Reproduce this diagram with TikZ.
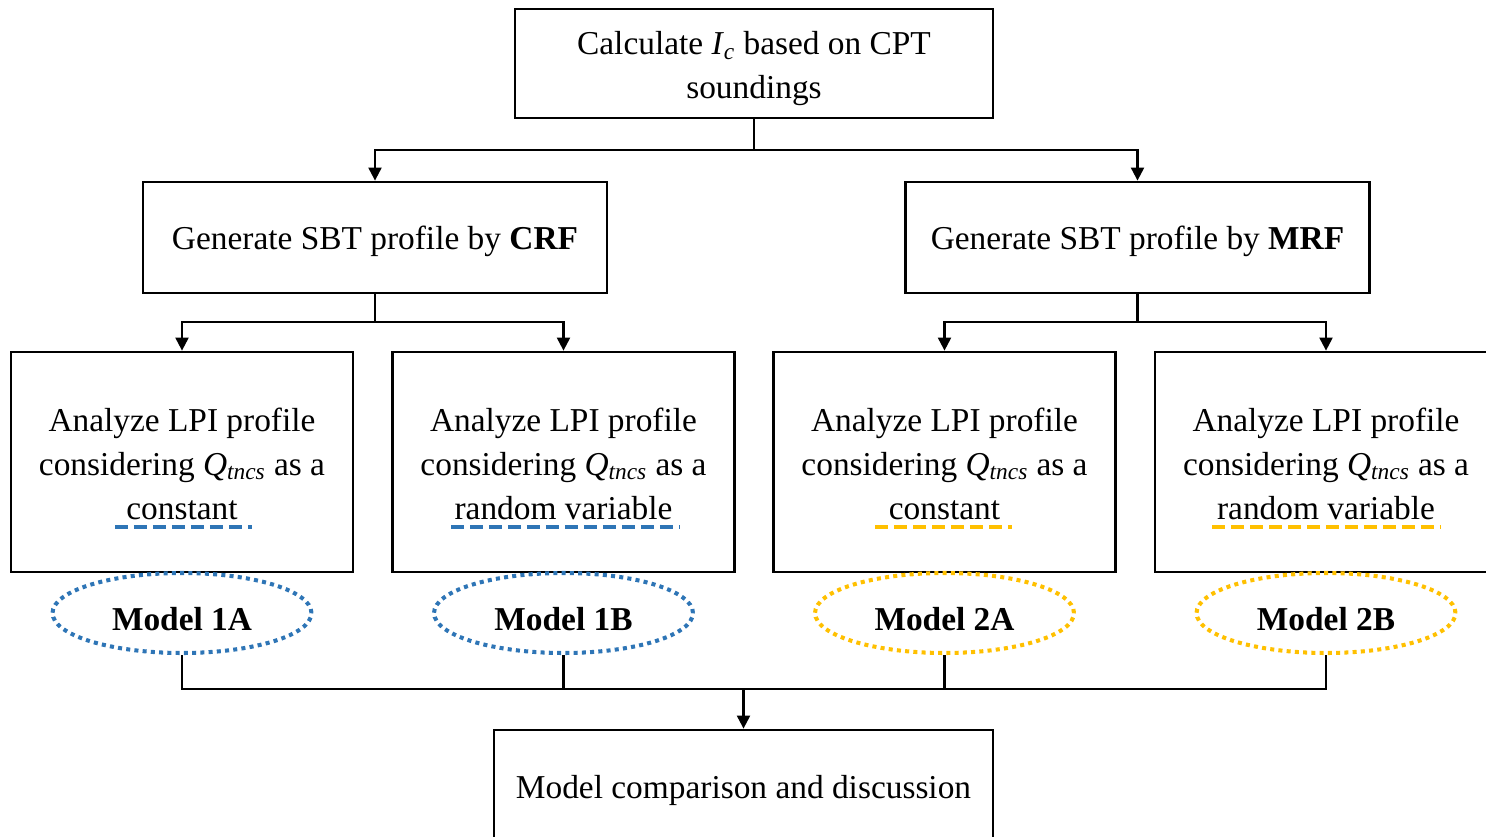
\documentclass[tikz,border=0pt]{standalone}
\usepackage{fontspec}
\setmainfont{Liberation Serif}
\usetikzlibrary{arrows.meta,shapes.geometric}
\definecolor{crfblue}{RGB}{46,117,182}
\definecolor{mrfgold}{RGB}{255,192,0}
\newcommand{\qtncs}{\textit{Q}\textsubscript{\textit{tncs}}}
\newcommand{\stacktext}[1]{\begin{tabular}{@{}c@{}}\rule{0pt}{22.5pt}#1\end{tabular}}
\begin{document}
\begin{tikzpicture}[x=0.02cm, y=-0.02cm,
  font=\fontsize{19}{25}\selectfont,
  lift/.style={execute at begin node={\rule{0pt}{#1}}},
  box/.style={draw, line width=1.6pt, inner sep=0pt},
  step1/.style={box, lift=18pt},
  stage/.style={box, minimum width=6.84cm, minimum height=4.4cm},
  oval/.style={ellipse, draw, line width=2.3pt, dash pattern=on 2.3pt off 2.4pt,
    minimum width=5.18cm, minimum height=1.6cm, inner sep=0pt,
    font=\fontsize{19}{25}\selectfont\bfseries, lift=20pt},
  link/.style={line width=1.2pt},
  arr/.style={link, -{Triangle[length=0.26cm,width=0.26cm]}},
  uline/.style={line width=2.3pt, dash pattern=on 0.26cm off 0.12cm}]
  \clip (0,0) rectangle (1486,837);
  % first step
  \node[box, minimum width=9.56cm, minimum height=2.18cm] (calc) at (754,63.5)
    {\stacktext{Calculate \textit{I}\textsubscript{\textit{c}} based on CPT\\soundings}};
  % two ways of profile generation
  \node[step1, minimum width=9.28cm, minimum height=2.22cm] (crf) at (375,237.5)
    {Generate SBT profile by \textbf{CRF}};
  \node[step1, minimum width=9.28cm, minimum height=2.22cm] (mrf) at (1137.5,237.5)
    {Generate SBT profile by \textbf{MRF}};
  % four models
  \node[stage] (s1a) at (182,462) {\stacktext{Analyze LPI profile\\considering \qtncs{} as a\\constant}};
  \node[stage] (s1b) at (563.5,462) {\stacktext{Analyze LPI profile\\considering \qtncs{} as a\\random variable}};
  \node[stage] (s2a) at (944.5,462) {\stacktext{Analyze LPI profile\\considering \qtncs{} as a\\constant}};
  \node[stage] (s2b) at (1326,462) {\stacktext{Analyze LPI profile\\considering \qtncs{} as a\\random variable}};
  \draw[uline, crfblue] (115,527) -- (252,527);
  \draw[uline, crfblue] (451,527) -- (679,527);
  \draw[uline, mrfgold] (875,527) -- (1012,527);
  \draw[uline, mrfgold] (1212,527) -- (1440,527);
  \node[oval, crfblue] (m1a) at (182,613) {\color{black}Model 1A};
  \node[oval, crfblue] (m1b) at (563.5,613) {\color{black}Model 1B};
  \node[oval, mrfgold] (m2a) at (944.5,613) {\color{black}Model 2A};
  \node[oval, mrfgold] (m2b) at (1326,613) {\color{black}Model 2B};
  % last step
  \node[step1, minimum width=9.98cm, minimum height=2.24cm] (cmp) at (743.5,786)
    {Model comparison and discussion};
  % connectors
  \coordinate (j0) at (754,150);
  \coordinate (j1) at (375,322);
  \coordinate (j2) at (1137.5,322);
  \coordinate (j3) at (743.5,689);
  \draw[link] (calc.south) -- (j0);
  \draw[arr] (j0) -| (crf.north);
  \draw[arr] (j0) -| (mrf.north);
  \draw[link] (crf.south) -- (j1);
  \draw[arr] (j1) -| (s1a.north);
  \draw[arr] (j1) -| (s1b.north);
  \draw[link] (mrf.south) -- (j2);
  \draw[arr] (j2) -| (s2a.north);
  \draw[arr] (j2) -| (s2b.north);
  \draw[link] (m1a.south) |- (j3);
  \draw[link] (m1b.south) |- (j3);
  \draw[link] (m2a.south) |- (j3);
  \draw[link] (m2b.south) |- (j3);
  \draw[arr] (j3) -- (cmp.north);
\end{tikzpicture}
\end{document}
